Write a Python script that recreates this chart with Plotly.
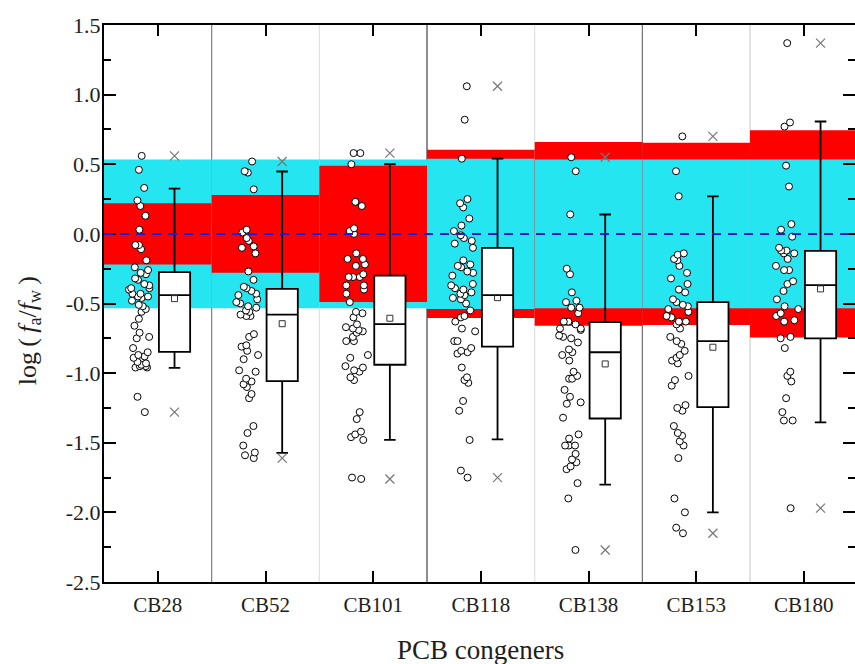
import plotly.graph_objects as go

categories = ["CB28", "CB52", "CB101", "CB118", "CB138", "CB153", "CB180"]

cb28 = [0.56, 0.46, 0.33, 0.24, 0.20, 0.13, 0.03, -0.08, -0.08, -0.11, -0.19, -0.24, -0.26, -0.28,
        -0.29, -0.32, -0.33, -0.36, -0.37, -0.39, -0.39, -0.40, -0.43, -0.43, -0.45, -0.45, -0.46,
        -0.48, -0.51, -0.52, -0.54, -0.56, -0.61, -0.66, -0.71, -0.74, -0.75, -0.82, -0.85, -0.87,
        -0.88, -0.89, -0.92, -0.93, -0.94, -0.95, -0.96, -0.96, -0.95, -1.17, -1.28]
cb52 = [0.52, 0.45, 0.44, 0.32, 0.03, 0.01, -0.03, -0.05, -0.09, -0.10, -0.14, -0.27, -0.33, -0.38,
        -0.39, -0.41, -0.43, -0.44, -0.47, -0.49, -0.50, -0.52, -0.53, -0.55, -0.56, -0.58, -0.59,
        -0.59, -0.72, -0.74, -0.80, -0.81, -0.84, -0.87, -0.90, -0.98, -0.99, -1.04, -1.06, -1.08,
        -1.10, -1.15, -1.18, -1.38, -1.43, -1.52, -1.57, -1.59, -1.61]
cb101 = [0.58, 0.58, 0.50, 0.23, 0.20, 0.04, 0.02, 0.00, -0.14, -0.18, -0.18, -0.22, -0.23, -0.29,
         -0.31, -0.31, -0.31, -0.37, -0.37, -0.40, -0.43, -0.49, -0.56, -0.57, -0.60, -0.65, -0.67,
         -0.68, -0.69, -0.70, -0.71, -0.74, -0.77, -0.77, -0.87, -0.89, -0.95, -0.96, -0.98, -0.99,
         -1.03, -1.05, -1.28, -1.33, -1.42, -1.44, -1.46, -1.48, -1.75, -1.76]
cb118 = [1.06, 0.82, 0.54, 0.25, 0.22, 0.19, 0.11, 0.06, 0.02, -0.01, -0.03, -0.05, -0.07, -0.10,
         -0.19, -0.22, -0.23, -0.24, -0.27, -0.28, -0.30, -0.36, -0.37, -0.39, -0.40, -0.42, -0.43,
         -0.44, -0.46, -0.47, -0.50, -0.55, -0.59, -0.60, -0.63, -0.68, -0.70, -0.77, -0.77, -0.82,
         -0.84, -0.85, -0.86, -0.96, -1.03, -1.05, -1.07, -1.20, -1.27, -1.48, -1.70, -1.75]
cb138 = [0.55, 0.45, 0.14, -0.25, -0.29, -0.42, -0.48, -0.49, -0.53, -0.53, -0.57, -0.63, -0.63,
         -0.65, -0.68, -0.68, -0.69, -0.73, -0.74, -0.75, -0.78, -0.83, -0.85, -0.87, -0.91, -0.99,
         -1.02, -1.04, -1.04, -1.12, -1.17, -1.21, -1.22, -1.32, -1.44, -1.47, -1.52, -1.52, -1.52,
         -1.58, -1.62, -1.64, -1.67, -1.69, -1.79, -1.90, -2.27]
cb153 = [0.70, 0.45, 0.27, -0.14, -0.15, -0.18, -0.19, -0.23, -0.28, -0.32, -0.36, -0.40, -0.42,
         -0.47, -0.49, -0.51, -0.52, -0.54, -0.56, -0.59, -0.60, -0.63, -0.63, -0.65, -0.68, -0.74,
         -0.77, -0.79, -0.84, -0.87, -0.89, -0.91, -0.93, -1.02, -1.05, -1.09, -1.23, -1.25, -1.27,
         -1.38, -1.43, -1.45, -1.49, -1.52, -1.61, -1.90, -2.00, -2.11, -2.15]
cb180 = [1.37, 0.80, 0.77, 0.49, 0.34, 0.07, 0.03, -0.02, -0.10, -0.12, -0.12, -0.14, -0.14, -0.18,
         -0.23, -0.26, -0.26, -0.34, -0.36, -0.41, -0.47, -0.52, -0.54, -0.57, -0.59, -0.62, -0.63,
         -0.74, -0.75, -0.82, -0.99, -1.02, -1.06, -1.18, -1.28, -1.34, -1.34, -1.97]

series = [cb28, cb52, cb101, cb118, cb138, cb153, cb180]

# box statistics
q3_vals = [-0.275, -0.395, -0.30, -0.10, -0.633, -0.49, -0.122]
median_vals = [-0.44, -0.58, -0.648, -0.44, -0.85, -0.77, -0.368]
q1_vals = [-0.847, -1.058, -0.94, -0.81, -1.326, -1.244, -0.751]
whisker_hi = [0.325, 0.448, 0.50, 0.54, 0.139, 0.27, 0.807]
whisker_lo = [-0.963, -1.572, -1.48, -1.476, -1.80, -2.00, -1.353]
mean_vals = [-0.465, -0.645, -0.606, -0.458, -0.934, -0.814, -0.395]

# band half-widths (log units)
red_half = [0.22, 0.28, 0.49, 0.605, 0.66, 0.655, 0.745]
cyan_half = [0.535, 0.535, 0.535, 0.54, 0.535, 0.535, 0.535]

y_ticks = [1.5, 1.0, 0.5, 0.0, -0.5, -1.0, -1.5, -2.0, -2.5]
y_ticktext = ["1.5", "1.0", "0.5", "0.0", "-0.5", "-1.0", "-1.5", "-2.0", "-2.5"]

RED = "#ff0000"
CYAN = "#25e5f1"
BOX_OFF = 0.155
PTS_OFF = -0.15
BOX_W = 0.29
FONT = "Liberation Serif"
TXT = "#1e1e1e"

n = len(categories)
pos = list(range(n))
box_pos = [p + BOX_OFF for p in pos]
pts_pos = [p + PTS_OFF for p in pos]

fig = go.Figure()

# sample points (invisible box, library jitter)
for i, vals in enumerate(series):
    fig.add_trace(go.Box(
        y=vals, x0=pts_pos[i], width=BOX_W,
        boxpoints="all", jitter=0.95, pointpos=0,
        fillcolor="rgba(0,0,0,0)", line=dict(color="rgba(0,0,0,0)", width=0),
        marker=dict(symbol="circle", size=7, color="white",
                    line=dict(color="black", width=1)),
        showlegend=False, hoverinfo="y",
    ))

# visible boxes from statistics
fig.add_trace(go.Box(
    x=box_pos, q1=q1_vals, median=median_vals, q3=q3_vals,
    lowerfence=whisker_lo, upperfence=whisker_hi,
    width=BOX_W, whiskerwidth=0.37, boxpoints=False,
    fillcolor="white", line=dict(color="black", width=1.8),
    showlegend=False,
))

# mean markers
fig.add_trace(go.Scatter(
    x=box_pos, y=mean_vals, mode="markers",
    marker=dict(symbol="square-open", size=6, color="#333333", line=dict(width=1)),
    showlegend=False,
))

# min / max markers
fig.add_trace(go.Scatter(
    x=box_pos + box_pos,
    y=[max(v) for v in series] + [min(v) for v in series],
    mode="markers",
    marker=dict(symbol="x-thin", size=9, color="#777777",
                line=dict(color="#777777", width=1.2)),
    showlegend=False,
))

# helper trace for right-side ticks
fig.add_trace(go.Scatter(x=[], y=[], yaxis="y2", showlegend=False))

shapes = []
for i in range(n):
    bands = [(cyan_half[i], CYAN), (red_half[i], RED)]
    bands.sort(key=lambda b: -b[0])
    for h, col in bands:
        shapes.append(dict(type="rect", xref="x", yref="y",
                           x0=pos[i] - 0.5, x1=pos[i] + 0.5, y0=-h, y1=h,
                           fillcolor=col, line=dict(width=0), layer="below"))

sep_colors = ["#808080", "#e0e0e0", "#404040", "#e0e0e0", "#707070", "#d0d0d0"]
for i in range(n - 1):
    shapes.append(dict(type="line", xref="x", yref="paper",
                       x0=pos[i] + 0.5, x1=pos[i] + 0.5, y0=0, y1=1,
                       line=dict(color=sep_colors[i], width=1.2), layer="below"))

shapes.append(dict(type="line", xref="paper", yref="y", x0=0, x1=1, y0=0, y1=0,
                   line=dict(color="#1a1ad8", width=2, dash="9px,7px"), layer="above"))

fig.update_layout(
    width=855, height=664,
    margin=dict(l=104, r=0, t=25, b=82),
    paper_bgcolor="white", plot_bgcolor="white",
    boxmode="overlay",
    shapes=shapes,
    font=dict(family=FONT, size=20, color=TXT),
    xaxis=dict(
        range=[-0.5, 6.475], tickmode="array", tickvals=pos, ticktext=categories,
        ticks="inside", ticklen=11, tickwidth=2, tickcolor="black",
        showline=True, linecolor="black", linewidth=2, mirror="ticks",
        showgrid=False, zeroline=False, ticklabelstandoff=3,
        tickfont=dict(family=FONT, size=21, color=TXT),
    ),
    yaxis=dict(
        range=[-2.5, 1.5], tickmode="array", tickvals=y_ticks, ticktext=y_ticktext,
        ticks="inside", ticklen=12, tickwidth=2, tickcolor="black",
        minor=dict(dtick=0.25, tick0=-2.5, ticks="inside", ticklen=7, tickwidth=2,
                   tickcolor="black", showgrid=False),
        showline=True, linecolor="black", linewidth=2,
        showgrid=False, zeroline=False, ticklabelstandoff=-3,
        tickfont=dict(family=FONT, size=22, color=TXT),
    ),
    yaxis2=dict(
        range=[-2.5, 1.5], overlaying="y", side="right", anchor="x",
        tickmode="array", tickvals=y_ticks, showticklabels=False,
        ticks="inside", ticklen=12, tickwidth=2, tickcolor="black",
        minor=dict(dtick=0.25, tick0=-2.5, ticks="inside", ticklen=7, tickwidth=2,
                   tickcolor="black", showgrid=False),
        showline=False, showgrid=False, zeroline=False,
    ),
    annotations=[
        dict(text="log\u2009(\u2009<i>f</i><sub>a</sub>/<i>f</i><sub>w</sub>\u2009)",
             xref="paper", yref="paper", x=-0.1, y=0.452,
             xanchor="center", yanchor="middle", textangle=-90, showarrow=False,
             font=dict(family=FONT, size=26, color=TXT)),
        dict(text="PCB congeners", xref="paper", yref="paper", x=0.5007, y=-0.1225,
             xanchor="center", yanchor="middle", showarrow=False,
             font=dict(family=FONT, size=27, color=TXT)),
    ],
)

fig.write_html("out.html")
